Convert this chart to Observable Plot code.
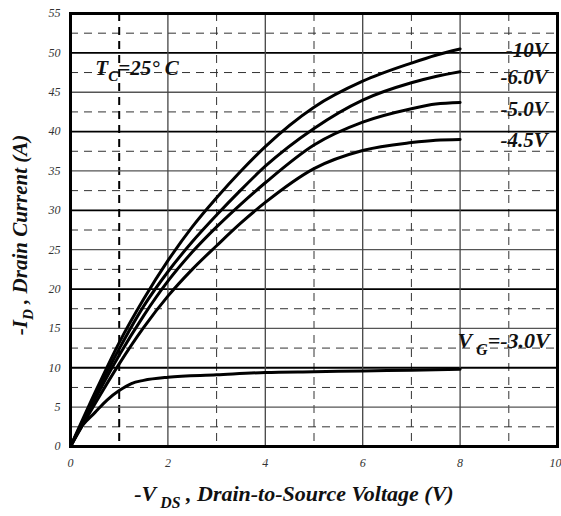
<!DOCTYPE html>
<html><head><meta charset="utf-8">
<script src="https://cdn.jsdelivr.net/npm/d3@7"></script>
<script src="https://cdn.jsdelivr.net/npm/@observablehq/plot@0.6"></script>
<style>body{margin:0;background:#fff}</style>
</head><body><div id="chart"></div>
<script>
// Drain-to-source voltage samples (V) for the four upper curves
const vds = [0, 0.5, 1, 1.5, 2, 2.5, 3, 3.5, 4, 5, 6, 7, 7.5, 8];
const id10 = [0, 6.8, 13.2, 18.7, 23.6, 27.9, 31.6, 35.0, 38.1, 43.1, 46.4, 48.7, 49.7, 50.5];
const id6 = [0, 6.4, 12.4, 17.8, 22.2, 26.0, 29.4, 32.6, 35.6, 40.4, 44.0, 46.2, 47.0, 47.6];
const id5 = [0, 6.0, 11.6, 16.6, 21.0, 24.7, 27.9, 30.8, 33.5, 38.3, 41.2, 42.9, 43.5, 43.7];
const id45 = [0, 5.4, 10.5, 15.1, 19.1, 22.5, 25.5, 28.4, 31.0, 35.3, 37.6, 38.6, 38.9, 39.0];
// V_G = -3.0 V curve
const vds3 = [0, 0.25, 0.5, 0.75, 1, 1.25, 1.5, 2, 3, 4, 5, 6, 7, 8];
const id3 = [0, 2.7, 4.3, 5.9, 7.1, 8.0, 8.4, 8.8, 9.1, 9.4, 9.5, 9.6, 9.7, 9.8];

const seriesNames = ["-10V", "-6.0V", "-5.0V", "-4.5V"];
const seriesValues = [id10, id6, id5, id45];
const labelY = [50.3, 46.9, 42.8, 38.9];

const xTicks = [0, 2, 4, 6, 8];
const xTickLast = [10];
const yTicks = [0, 5, 10, 15, 20, 25, 30, 35, 40, 45, 50, 55];
const xSolid = [2, 4, 6, 8];
const xDashed = [3, 5, 7, 9];
const xDashedBold = [1];
const ySolidBold = [10, 20, 30, 40, 50];
const ySolid = [5, 15, 25, 35, 45];
const yDashed = [2.5, 7.5, 12.5, 17.5, 22.5, 27.5, 32.5, 37.5, 42.5, 47.5, 52.5];

const rows = [];
seriesNames.forEach((s, i) => vds.forEach((v, j) => rows.push({s, v, i: seriesValues[i][j]})));
const rows3 = vds3.map((v, j) => ({s: "-3.0V", v, i: id3[j]}));
const labels = seriesNames.map((s, k) => ({s, y: labelY[k]}));

const font = "'Liberation Serif', 'DejaVu Serif', serif";
const dash = "8,6";
const tickStyle = {tickSize: 0, fontStyle: "italic", fontSize: 12, fill: "#333", label: null};

const plot = Plot.plot({
  width: 561, height: 516,
  marginLeft: 70, marginRight: 4, marginTop: 13, marginBottom: 70,
  x: {domain: [0, 10]},
  y: {domain: [0, 55]},
  style: {fontFamily: font, background: "#fff", overflow: "visible"},
  marks: [
    Plot.ruleY(yDashed, {stroke: "#333", strokeWidth: 1, strokeDasharray: dash}),
    Plot.ruleX(xDashed, {stroke: "#333", strokeWidth: 1, strokeDasharray: dash}),
    Plot.ruleX(xDashedBold, {stroke: "#000", strokeWidth: 2, strokeDasharray: dash}),
    Plot.ruleY(ySolid, {stroke: "#555", strokeWidth: 1.3}),
    Plot.ruleY(ySolidBold, {stroke: "#000", strokeWidth: 1.8}),
    Plot.ruleX(xSolid, {stroke: "#444", strokeWidth: 1.3}),
    Plot.line(rows, {x: "v", y: "i", z: "s", stroke: "#000", strokeWidth: 3, curve: "monotone-x"}),
    Plot.line(rows3, {x: "v", y: "i", stroke: "#000", strokeWidth: 3, curve: "monotone-x"}),
    Plot.frame({stroke: "#000", strokeWidth: 3}),
    Plot.axisX(xTicks, {...tickStyle, tickPadding: 12}),
    Plot.axisX(xTickLast, {...tickStyle, tickPadding: 12, textAnchor: "end", dx: 4}),
    Plot.axisY(yTicks, {...tickStyle, tickPadding: 10}),
    Plot.text(labels, {x: 9.8, y: "y", text: "s", textAnchor: "end", fontSize: 21, fontWeight: "bold", fontStyle: "italic", fill: "#111"})
  ]
});
document.getElementById("chart").appendChild(plot);

const sx = plot.scale("x"), sy = plot.scale("y");
const svg = d3.select(plot);

function subText(g, parts, size) {
  parts.forEach(([t, sub]) => {
    g.append("tspan")
      .attr("font-size", sub === 1 ? size * 0.72 : size)
      .attr("dy", sub === 1 ? size * 0.3 : sub === -1 ? -size * 0.3 : 0)
      .text(t);
  });
}

// Y axis title
const yt = svg.append("text")
  .attr("transform", `translate(27,235) rotate(-90)`)
  .attr("text-anchor", "middle").attr("font-weight", "bold").attr("font-style", "italic")
  .attr("font-family", font).attr("font-size", 21).attr("fill", "#111");
subText(yt, [["-I", 0], ["D", 1], [" , Drain Current (A)", -1]], 21);

// X axis title
const xt = svg.append("text")
  .attr("x", 294).attr("y", 501)
  .attr("text-anchor", "middle").attr("font-weight", "bold").attr("font-style", "italic")
  .attr("font-family", font).attr("font-size", 22).attr("fill", "#111");
subText(xt, [["-V", 0], [" DS", 1], [" , Drain-to-Source Voltage (V)", -1]], 22);

// Temperature annotation
const tc = svg.append("text")
  .attr("x", sx.apply(0.52)).attr("y", sy.apply(47.1))
  .attr("text-anchor", "start").attr("font-style", "italic").attr("font-weight", "bold")
  .attr("font-family", font).attr("font-size", 21).attr("fill", "#111");
subText(tc, [["T", 0], ["C", 1], ["=25° C", -1]], 21);

// Gate voltage annotation
const vg = svg.append("text")
  .attr("x", sx.apply(9.85)).attr("y", sy.apply(12.4))
  .attr("text-anchor", "end").attr("font-style", "italic").attr("font-weight", "bold")
  .attr("font-family", font).attr("font-size", 22).attr("fill", "#111");
subText(vg, [["V", 0], [" G", 1], ["=-3.0V", -1]], 22);
</script>
</body></html>
